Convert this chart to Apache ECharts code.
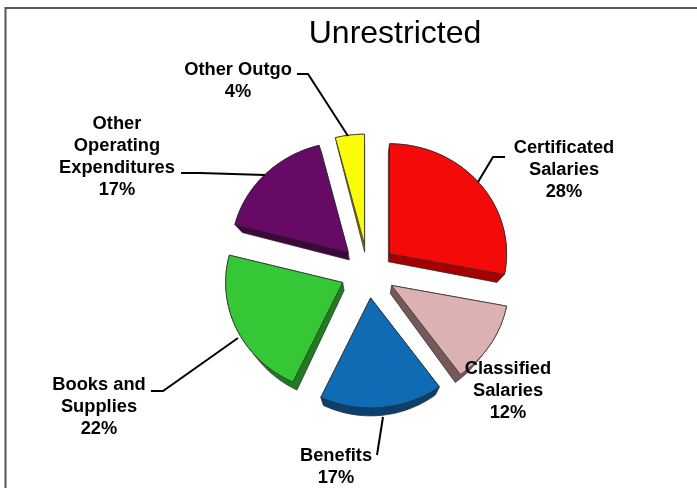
<!DOCTYPE html>
<html>
<head>
<meta charset="utf-8">
<title>Unrestricted</title>
<style>
  html, body { margin: 0; padding: 0; background: #fff; }
  #chart { width: 697px; height: 488px; }
</style>
<script src="https://cdn.jsdelivr.net/npm/echarts@6/dist/echarts.min.js"></script>
</head>
<body>
<div id="chart"></div>
<script>
// Budget shares by expense type, clockwise from twelve o'clock.
const categories = ['Certificated Salaries', 'Classified Salaries', 'Benefits', 'Books and Supplies', 'Other Operating Expenditures', 'Other Outgo'];
const shares = [28, 12, 17, 22, 17, 4];

// How each label wraps across lines.
const labelLines = [
  ['Certificated', 'Salaries'],
  ['Classified', 'Salaries'],
  ['Benefits'],
  ['Books and', 'Supplies'],
  ['Other', 'Operating', 'Expenditures'],
  ['Other Outgo']
];

// Appearance of the tilted, exploded disc.
const topColors = ['#f50a0a', '#dcb1b1', '#0e6bb4', '#35c735', '#660a66', '#fbfb0a'];
const wallColors = ['#a50000', '#75595a', '#0b3f6e', '#1f7d1f', '#3d063d', '#7d7d06'];
const disc = { cx: 368, cy: 271, rx: 117, ry: 110, depth: 8, explodeX: 28, explodeY: 27, taper: 0.055 };

// Label centres and leader paths, in page pixels.
const labelAnchors = [[564, 170], [508, 391], [336, 467], [99, 407], [117, 157], [238, 81]];
const leaderPaths = [
  [[505, 157], [493, 157], [478, 182]],
  [],
  [[377, 455], [383, 417]],
  [[151, 391], [163, 391], [238, 338]],
  [[181, 173], [200, 173], [265, 175]],
  [[297, 74], [308, 74], [348, 136]]
];

const total = shares.reduce((a, b) => a + b, 0);

// Point on the tilted rim at a clockwise angle from the top.
function rim(ox, oy, angle) {
  return [ox + disc.rx * Math.sin(angle), oy - disc.ry * Math.cos(angle)];
}

// Outline of one slice: apex, then the rim from start to end.
function sliceOutline(startShare, share) {
  const a0 = startShare / total * 2 * Math.PI;
  const a1 = (startShare + share) / total * 2 * Math.PI;
  const mid = (a0 + a1) / 2;
  const ox = disc.cx + disc.explodeX * Math.sin(mid);
  const oy = disc.cy - disc.explodeY * Math.cos(mid);
  const pts = [[ox, oy]];
  const steps = Math.max(6, Math.ceil((a1 - a0) / 0.03));
  for (let i = 0; i <= steps; i++) {
    pts.push(rim(ox, oy, a0 + (a1 - a0) * i / steps));
  }
  return pts;
}

// Convex hull of a slice and its lower face; the lower face narrows toward
// the middle of the disc so the body reads as seen in perspective.
function extrudedHull(pts) {
  const lower = pts.map(p => [p[0] + (disc.cx - p[0]) * disc.taper, p[1] + disc.depth]);
  const all = pts.concat(lower);
  all.sort((a, b) => a[0] - b[0] || a[1] - b[1]);
  const cross = (o, a, b) => (a[0] - o[0]) * (b[1] - o[1]) - (a[1] - o[1]) * (b[0] - o[0]);
  const half = list => {
    const h = [];
    list.forEach(p => {
      while (h.length >= 2 && cross(h[h.length - 2], h[h.length - 1], p) <= 0) h.pop();
      h.push(p);
    });
    h.pop();
    return h;
  };
  return half(all).concat(half(all.slice().reverse()));
}

function renderSlice(params, api) {
  const i = params.dataIndex;
  const share = api.value(1);
  const before = shares.slice(0, i).reduce((a, b) => a + b, 0);
  const outline = sliceOutline(before, share);
  const edge = 'rgba(45,45,45,0.75)';
  const children = [
    {
      type: 'polygon',
      shape: { points: extrudedHull(outline) },
      style: { fill: wallColors[i], stroke: edge, lineWidth: 1 }
    },
    {
      type: 'polygon',
      shape: { points: outline },
      style: { fill: topColors[i], stroke: edge, lineWidth: 1, lineJoin: 'round' }
    }
  ];
  if (leaderPaths[i].length) {
    children.push({
      type: 'polyline',
      shape: { points: leaderPaths[i] },
      style: { fill: 'none', stroke: '#000', lineWidth: 2 }
    });
  }
  children.push({
    type: 'text',
    z2: 10,
    style: {
      text: labelLines[i].concat(share + '%').join('\n'),
      x: labelAnchors[i][0],
      y: labelAnchors[i][1],
      align: 'center',
      verticalAlign: 'middle',
      font: 'bold 18.3px "Liberation Sans", Arial, sans-serif',
      lineHeight: 21.7,
      fill: '#000'
    }
  });
  return { type: 'group', children };
}

const chart = echarts.init(document.getElementById('chart'), null, { renderer: 'canvas' });
chart.setOption({
  animation: false,
  backgroundColor: '#fff',
  title: {
    text: 'Unrestricted',
    left: 390,
    top: 13,
    textAlign: 'center',
    textStyle: {
      fontFamily: '"Liberation Sans", Arial, sans-serif',
      fontWeight: 'normal',
      fontSize: 32,
      color: '#000'
    }
  },
  graphic: [{
    type: 'polyline',
    shape: { points: [[5.5, 488], [5.5, 8], [697, 8]] },
    style: { fill: 'none', stroke: '#555', lineWidth: 2 }
  }],
  series: [{
    type: 'custom',
    coordinateSystem: 'none',
    renderItem: renderSlice,
    encode: { value: 1, itemName: 0 },
    data: categories.map((name, i) => [name, shares[i]])
  }]
});
</script>
</body>
</html>
